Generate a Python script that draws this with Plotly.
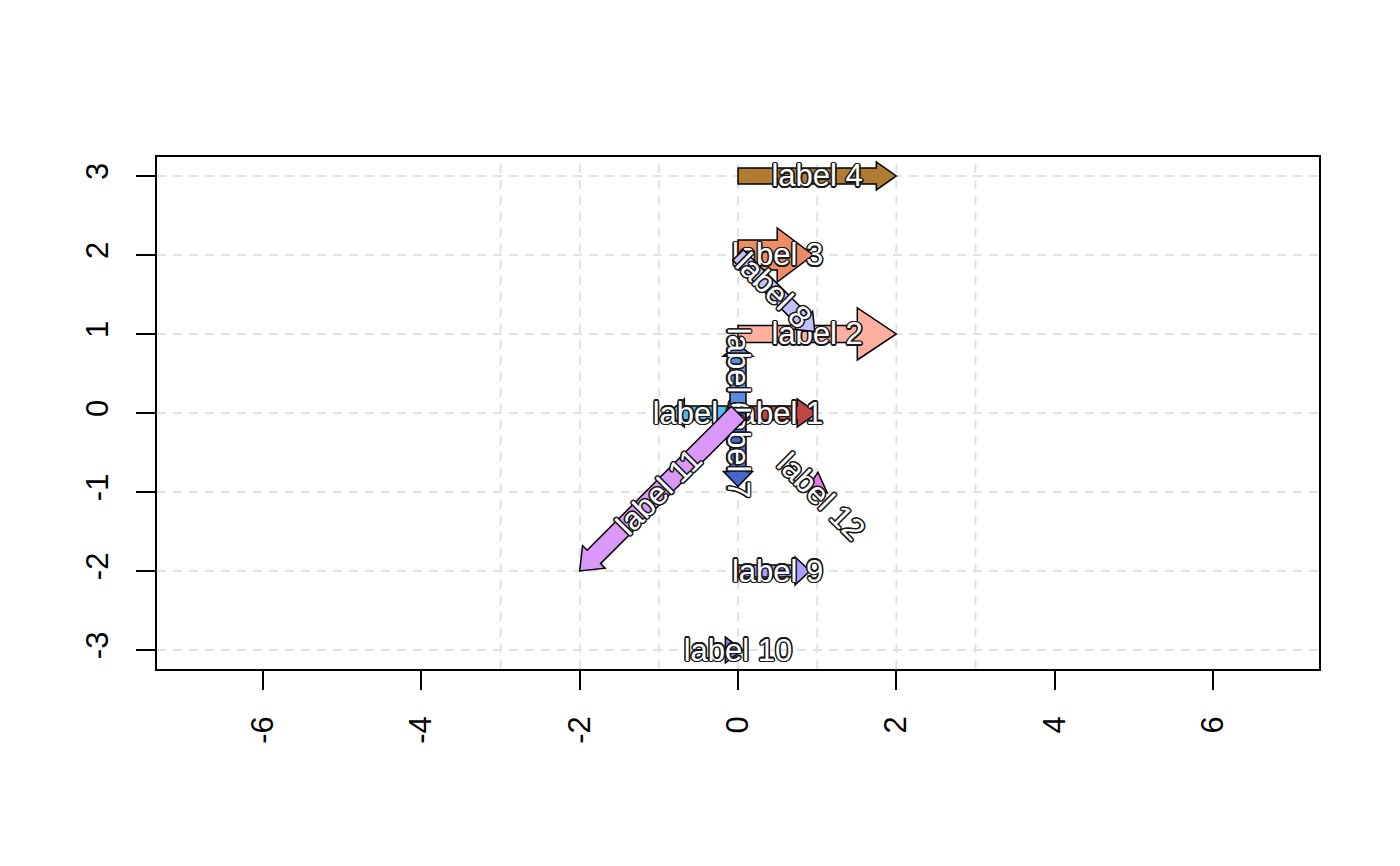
import math
import plotly.graph_objects as go

# ---------------- data ----------------
labels = ["label 1", "label 2", "label 3", "label 4", "label 5", "label 6",
          "label 7", "label 8", "label 9", "label 10", "label 11", "label 12"]
x_start = [0, 0, 0, 0, 0, 0, 0, 0, 0, -0.16, 0, 0.99]
y_start = [0, 1, 2, 3, 0, 0, 0, 2, -2, -3, 0, -1.0]
x_end = [1.0, 2.0, 0.95, 2.0, -0.88, 0, 0, 0.97, 0.91, 0.06, -2.0, 1.01]
y_end = [0, 1, 2, 3, 0, 0.87, -0.93, 1.03, -2, -3, -2.0, -0.75]
colors = ["#BD4646", "#FFAFA0", "#EE8C64", "#AF7D32", "#55B9F0", "#5A8CE0",
          "#4666D0", "#C0C0FF", "#AAA0FF", "#9478E0", "#DA98F8", "#E67ADC"]
label_x = [0.5, 1, 0.5, 1, -0.5, 0, 0, 0.45, 0.5, 0, -1, 1.05]
label_y = [0, 1, 2, 3, 0, 0.5, -0.5, 1.55, -2, -3, -1, -1.06]
label_angle = [0, 0, 0, 0, 0, 90, 90, 45, 0, 0, -45, 45]

x_ticks = [-6, -4, -2, 0, 2, 4, 6]
y_ticks = [-3, -2, -1, 0, 1, 2, 3]
grid_vals = [-3, -2, -1, 0, 1, 2, 3]

# ---------------- style ----------------
shaft_px = [14, 17, 30, 16, 14, 16, 16, 15, 12, 0, 19, 0]
head_w_px = [28, 52, 54, 28, 28, 30, 29, 26, 28, 26, 32, 22]
head_len_px = [20, 39, 36, 20, 16, 12, 15, 16, 15, 18, 20, 20]

W, H = 1400, 866
ML, MR, MT, MB = 157, 81, 157, 197
XR = [-7.34, 7.34]
YR = [-3.24, 3.24]
sx = (W - ML - MR) / (XR[1] - XR[0])
sy = (H - MT - MB) / (YR[1] - YR[0])

FONT = "Liberation Sans, Arial, Helvetica, sans-serif"
LABEL_SIZE = 31
LIFT = 3  # px, nudges the text box so glyphs sit centred on the anchor


def arrow_path(x0, y0, x1, y1, sw, hw, hl):
    # geometry in pixel space, converted back to data units
    px0, py0 = x0 * sx, y0 * sy
    px1, py1 = x1 * sx, y1 * sy
    dx, dy = px1 - px0, py1 - py0
    L = math.hypot(dx, dy)
    ux, uy = dx / L, dy / L
    nx, ny = -uy, ux
    hl = min(hl, L)
    bx, by = px1 - ux * hl, py1 - uy * hl
    pts = [
        (px0 + nx * sw / 2, py0 + ny * sw / 2),
        (bx + nx * sw / 2, by + ny * sw / 2),
        (bx + nx * hw / 2, by + ny * hw / 2),
        (px1, py1),
        (bx - nx * hw / 2, by - ny * hw / 2),
        (bx - nx * sw / 2, by - ny * sw / 2),
        (px0 - nx * sw / 2, py0 - ny * sw / 2),
    ]
    s = "M " + " L ".join(f"{p[0] / sx:.5f},{p[1] / sy:.5f}" for p in pts) + " Z"
    return s


shapes = []
# grid lines (dashed, below)
for g in grid_vals:
    shapes.append(dict(type="line", xref="x", yref="paper", x0=g, x1=g, y0=0, y1=1,
                       line=dict(color="#E2E2E2", width=2, dash="9px,7px"), layer="below"))
    shapes.append(dict(type="line", xref="paper", yref="y", x0=0, x1=1, y0=g, y1=g,
                       line=dict(color="#E2E2E2", width=2, dash="9px,7px"), layer="below"))

r = 1.5
offsets = [(r * math.cos(k * math.pi / 6), r * math.sin(k * math.pi / 6)) for k in range(12)]

for i in range(len(labels)):
    shapes.append(dict(type="path", xref="x", yref="y",
                       path=arrow_path(x_start[i], y_start[i], x_end[i], y_end[i],
                                       shaft_px[i], head_w_px[i], head_len_px[i]),
                       fillcolor=colors[i], line=dict(color="black", width=1.5),
                       layer="above"))
    # "up" direction of the rotated text in screen pixels (y up)
    a = math.radians(label_angle[i])
    upx, upy = math.sin(a), math.cos(a)
    for (ox, oy), col in [(o, "#1a1a1a") for o in offsets] + [((0, 0), "white")]:
        cx = label_x[i] + (ox + upx * LIFT) / sx
        cy = label_y[i] + (oy + upy * LIFT) / sy
        shapes.append(dict(type="rect", xref="x", yref="y",
                           x0=cx - 1e-4, x1=cx + 1e-4, y0=cy - 1e-4, y1=cy + 1e-4,
                           line=dict(width=0), fillcolor="rgba(0,0,0,0)", layer="above",
                           label=dict(text=labels[i], textposition="middle center",
                                      textangle=label_angle[i],
                                      font=dict(family=FONT, size=LABEL_SIZE, color=col))))

fig = go.Figure()
fig.add_trace(go.Scatter(x=[], y=[], showlegend=False))

axis_common = dict(showline=True, mirror=True, linecolor="black", linewidth=1.5,
                   ticks="outside", ticklen=19, tickwidth=1.5, tickcolor="black",
                   showgrid=False, zeroline=False, tickangle=-90,
                   tickfont=dict(family=FONT, size=31, color="black"))

fig.update_layout(
    width=W, height=H,
    margin=dict(l=ML, r=MR, t=MT, b=MB),
    paper_bgcolor="white", plot_bgcolor="white",
    xaxis=dict(range=XR, tickvals=x_ticks, ticktext=[str(v) for v in x_ticks],
               ticklabelstandoff=14, **axis_common),
    yaxis=dict(range=YR, tickvals=y_ticks, ticktext=[str(v) for v in y_ticks],
               ticklabelstandoff=16, **axis_common),
    shapes=shapes,
    showlegend=False,
)

fig.write_html("out.html")
